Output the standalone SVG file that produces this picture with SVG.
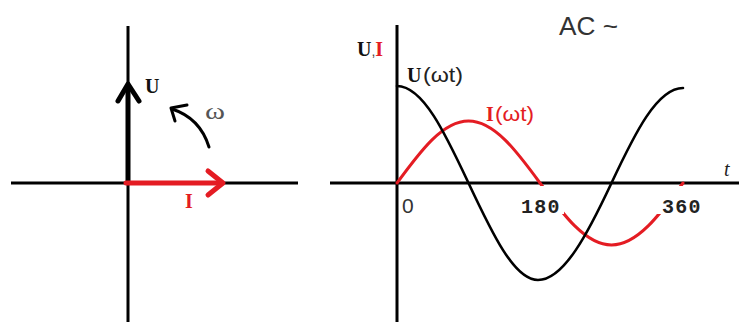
<svg xmlns="http://www.w3.org/2000/svg" width="739" height="322" viewBox="0 0 739 322">
<style>
.ax{stroke:#000;stroke-width:3;fill:none}
.blk{stroke:#000;fill:none;stroke-linecap:round;stroke-linejoin:round}
.red{stroke:#e41c23;fill:none;stroke-linecap:round;stroke-linejoin:round}
.bs{font-family:"Liberation Serif",serif;font-weight:bold}
.ss{font-family:"Liberation Sans",Arial,sans-serif}
.mono{font-family:"Liberation Mono",monospace;font-weight:bold;font-size:20px;letter-spacing:1.3px;fill:#222}
</style>
<rect width="739" height="322" fill="#fff"/>
<g id="phasor">
  <line class="ax" x1="128" y1="26" x2="128" y2="322"/>
  <line class="ax" x1="11" y1="183" x2="298" y2="183"/>
  <g id="U-vector">
    <line class="blk" x1="128" y1="183" x2="128" y2="86" stroke-width="5"/>
    <polyline class="blk" points="118,101 128,84 139,101" stroke-width="5"/>
    <text class="bs" x="145" y="93" font-size="20" fill="#111">U</text>
  </g>
  <g id="I-vector">
    <line class="red" x1="126" y1="183" x2="222" y2="183" stroke-width="5"/>
    <polyline class="red" points="208,171 223,183 208,195" stroke-width="5"/>
    <text class="bs" x="185" y="208" font-size="20" fill="#e41c23">I</text>
  </g>
  <g id="omega">
    <path class="blk" d="M209,147 Q200,118 172,109" stroke-width="3"/>
    <polyline class="blk" points="187,105 171,108 175,121" stroke-width="3"/>
    <text x="205" y="119" font-family="Liberation Serif,serif" font-size="23" fill="#555" textLength="20" lengthAdjust="spacingAndGlyphs">ω</text>
  </g>
</g>
<g id="waveform">
  <line class="ax" x1="397" y1="25" x2="397" y2="322"/>
  <line class="ax" x1="330" y1="183" x2="739" y2="183"/>
  <path id="I-curve" class="red" stroke-width="3" d="M397,183 C420.3,151.2 442.6,121 468.5,121 C494.4,121 516.7,151.2 540,183 C563.3,214.8 585.6,245 611.5,245 C637.4,245 659.7,214.8 683,183"/>
  <path id="U-curve" class="blk" stroke-width="2.6" d="M397,86 C422.9,86 445.2,133.3 468.5,183 C491.8,232.7 514.1,280 538,280 C563.9,280 588.2,232.7 611.5,183 C634.8,133.3 657.1,88 683,88"/>
  <rect x="518" y="186" width="46" height="28" fill="#fff"/>
  <rect x="657" y="186" width="50" height="28" fill="#fff"/>
  <text class="ss" x="402" y="213" font-size="21" fill="#333">0</text>
  <text class="mono" x="521" y="213">180</text>
  <text class="mono" x="662" y="213">360</text>
  <text x="724" y="176" font-family="Liberation Serif,serif" font-style="italic" font-size="20" fill="#222">t</text>
  <text x="357" y="56" font-size="20"><tspan class="bs" fill="#111">U</tspan><tspan class="ss" font-size="14" fill="#444">,</tspan><tspan class="bs" fill="#e41c23">I</tspan></text>
  <text x="407" y="82"><tspan class="bs" font-size="20" fill="#111">U</tspan></text>
  <text class="ss" x="423" y="82" font-size="21" fill="#222" textLength="40" lengthAdjust="spacingAndGlyphs">(ωt)</text>
  <text x="486" y="121"><tspan class="bs" font-size="20" fill="#e41c23">I</tspan></text>
  <text class="ss" x="495" y="121" font-size="21" fill="#e41c23" textLength="39" lengthAdjust="spacingAndGlyphs">(ωt)</text>
  <text class="ss" x="559" y="35" font-size="25" fill="#333" textLength="59" lengthAdjust="spacingAndGlyphs">AC ~</text>
</g>
</svg>
